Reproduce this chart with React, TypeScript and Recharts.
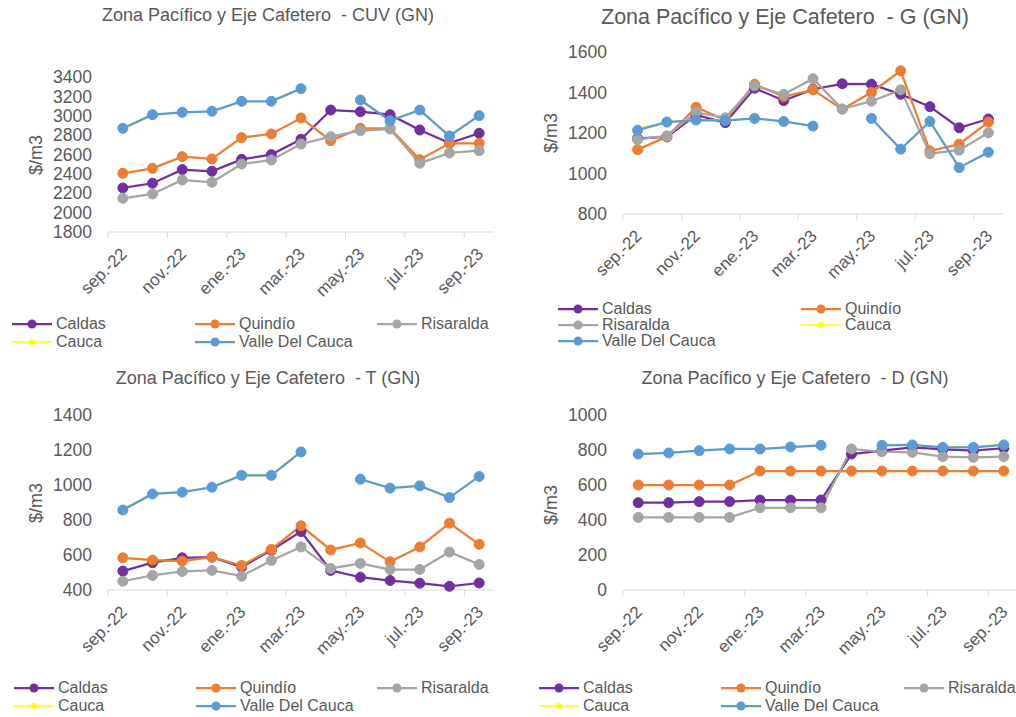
import { Line, LineChart, XAxis, YAxis } from 'recharts';

const months = [
  'sep.-22', 'oct.-22', 'nov.-22', 'dic.-22', 'ene.-23', 'feb.-23', 'mar.-23',
  'abr.-23', 'may.-23', 'jun.-23', 'jul.-23', 'ago.-23', 'sep.-23',
];

const seriesNames = ['Caldas', 'Quindío', 'Risaralda', 'Cauca', 'Valle Del Cauca'];
const seriesColors = ['#7030A0', '#ED7D31', '#A5A5A5', '#FFFF00', '#5B9BD5'];

// CUV
const cuvCaldas = [2255, 2303, 2444, 2427, 2550, 2599, 2757, 3059, 3042, 3011, 2853, 2719, 2819];
const cuvQuindio = [2406, 2457, 2578, 2554, 2774, 2812, 2977, 2743, 2870, 2870, 2547, 2715, 2715];
const cuvRisaralda = [2148, 2193, 2337, 2313, 2502, 2543, 2709, 2784, 2846, 2863, 2509, 2616, 2640];
const cuvCauca = [2860, 3005, 3030, 3045, 3150, 3150, 3285, null, 3165, 2950, 3065, 2795, 3000];
const cuvValle = [2870, 3011, 3035, 3046, 3149, 3149, 3280, null, 3163, 2949, 3059, 2791, 3001];

// G
const gCaldas = [1173, 1181, 1289, 1251, 1421, 1360, 1416, 1443, 1441, 1391, 1330, 1226, 1269];
const gQuindio = [1118, 1181, 1327, 1264, 1441, 1380, 1413, 1318, 1400, 1507, 1111, 1145, 1254];
const gRisaralda = [1168, 1186, 1302, 1275, 1433, 1391, 1468, 1318, 1357, 1413, 1098, 1115, 1201];
const gCauca = [1222, 1256, 1268, 1262, 1274, 1256, 1236, null, 1270, 1122, 1258, 1030, 1106];
const gValle = [1214, 1254, 1264, 1261, 1272, 1257, 1234, null, 1272, 1120, 1257, 1029, 1105];

// T
const tCaldas = [508, 556, 584, 588, 531, 627, 734, 512, 473, 454, 439, 421, 440];
const tQuindio = [584, 571, 565, 588, 540, 632, 767, 629, 669, 561, 646, 782, 661];
const tRisaralda = [450, 483, 506, 512, 479, 569, 646, 523, 552, 517, 517, 617, 546];
const tCauca = [860, 955, 962, 992, 1058, 1060, 1192, null, 1035, 985, 997, 930, 1050];
const tValle = [857, 949, 959, 987, 1055, 1055, 1189, null, 1033, 982, 995, 928, 1049];

// D
const dCaldas = [499, 499, 505, 505, 514, 514, 514, 777, 796, 815, 804, 796, 810];
const dQuindio = [600, 600, 600, 600, 680, 680, 680, 680, 680, 680, 680, 680, 680];
const dRisaralda = [415, 415, 415, 415, 470, 470, 470, 806, 790, 787, 762, 758, 762];
const dCauca = [778, 785, 797, 807, 807, 818, 828, null, 833, 830, 818, 818, 832];
const dValle = [777, 783, 796, 806, 806, 817, 827, null, 827, 829, 815, 815, 829];

const TXT = '#595959';
const FONT = '"Liberation Sans", Arial, sans-serif';

function buildRows(series: (number | null)[][]) {
  return months.map((m, i) => {
    const row: Record<string, number | string | null> = { x: i + 0.5, month: m };
    series.forEach((s, k) => {
      row['s' + k] = s[i];
    });
    return row;
  });
}

const labelTicks = [0.5, 2.5, 4.5, 6.5, 8.5, 10.5, 12.5];

function MonthTick(props: any) {
  const { x, y, payload, half } = props;
  const label = months[Math.floor(payload.value)];
  const ax = x + 5;
  const ay = y + 23;
  return (
    <g>
      <line x1={x - half} x2={x - half} y1={y} y2={y + 6} stroke="#D9D9D9" />
      <text
        x={ax}
        y={ay}
        transform={`rotate(-45 ${ax} ${ay})`}
        textAnchor="end"
        fontSize={17}
        fill={TXT}
      >
        {label}
      </text>
    </g>
  );
}

type PanelProps = {
  title: string;
  titleSize: number;
  titleX: number;
  titleY: number;
  left: number;
  top: number;
  width: number;
  height: number;
  plotLeft: number;
  plotRight: number;
  plotTop: number;
  plotBottom: number;
  domain: [number, number];
  yTicks: number[];
  series: (number | null)[][];
  yLabelX: number;
  yLabelY: number;
  legend: { name: number; x: number; y: number }[];
};

function Panel(p: PanelProps) {
  const data = buildRows(p.series);
  const half = (p.plotRight - p.plotLeft) / 13 / 2;
  return (
    <>
      <div
        style={{
          position: 'absolute',
          left: p.titleX,
          top: p.titleY,
          transform: 'translate(-50%, -50%)',
          fontSize: p.titleSize,
          color: TXT,
          whiteSpace: 'pre',
        }}
      >
        {p.title}
      </div>
      <div
        style={{
          position: 'absolute',
          left: p.yLabelX,
          top: p.yLabelY,
          transform: 'translate(-50%, -50%) rotate(-90deg)',
          fontSize: 18,
          color: TXT,
          whiteSpace: 'pre',
        }}
      >
        $/m3
      </div>
      <div style={{ position: 'absolute', left: p.left, top: p.top }}>
        <LineChart
          width={p.width}
          height={p.height}
          data={data}
          margin={{ top: p.plotTop, right: p.width - p.plotRight, left: 0, bottom: 0 }}
        >
          <XAxis
            dataKey="x"
            type="number"
            domain={[0, 13]}
            ticks={labelTicks}
            interval={0}
            height={p.height - p.plotBottom}
            stroke="#D9D9D9"
            tickSize={0}
            tickMargin={0}
            tick={<MonthTick half={half} />}
          />
          <YAxis
            type="number"
            domain={p.domain}
            ticks={p.yTicks}
            interval={0}
            width={p.plotLeft}
            axisLine={false}
            tickLine={false}
            tickSize={0}
            tickMargin={16}
            tick={{ fill: TXT, fontSize: 17.5 }}
          />
          {p.series.map((_, k) => (
            <Line
              key={k}
              dataKey={'s' + k}
              name={seriesNames[k]}
              stroke={seriesColors[k]}
              strokeWidth={k === 3 ? 1.5 : 2.25}
              dot={{ r: k === 3 ? 2.5 : 5, fill: seriesColors[k], stroke: seriesColors[k], strokeWidth: 1 }}
              connectNulls={false}
              isAnimationActive={false}
            />
          ))}
        </LineChart>
      </div>
      {p.legend.map((it) => (
        <div
          key={it.name}
          style={{
            position: 'absolute',
            left: it.x - 20,
            top: it.y - 10,
            height: 20,
            display: 'flex',
            alignItems: 'center',
            fontSize: 16,
            color: TXT,
            whiteSpace: 'pre',
          }}
        >
          <svg width={40} height={20}>
            <line x1={0} x2={40} y1={10} y2={10} stroke={seriesColors[it.name]} strokeWidth={it.name === 3 ? 1.5 : 2.25} />
            <circle cx={20} cy={10} r={it.name === 3 ? 3 : 4.5} fill={seriesColors[it.name]} />
          </svg>
          <span style={{ marginLeft: 4 }}>{seriesNames[it.name]}</span>
        </div>
      ))}
    </>
  );
}

export default function App() {
  return (
    <div
      style={{
        position: 'absolute',
        left: 0,
        top: 0,
        width: 1016,
        height: 717,
        overflow: 'hidden',
        background: '#fff',
        fontFamily: FONT,
      }}
    >
      <Panel
        title="Zona Pacífico y Eje Cafetero  - CUV (GN)"
        titleSize={18}
        titleX={268}
        titleY={15}
        left={0}
        top={0}
        width={508}
        height={358}
        plotLeft={108}
        plotRight={494}
        plotTop={77}
        plotBottom={232}
        domain={[1800, 3400]}
        yTicks={[1800, 2000, 2200, 2400, 2600, 2800, 3000, 3200, 3400]}
        series={[cuvCaldas, cuvQuindio, cuvRisaralda, cuvCauca, cuvValle]}
        yLabelX={36}
        yLabelY={155}
        legend={[
          { name: 0, x: 32, y: 324 },
          { name: 1, x: 215, y: 324 },
          { name: 2, x: 397, y: 324 },
          { name: 3, x: 32, y: 342 },
          { name: 4, x: 215, y: 342 },
        ]}
      />
      <Panel
        title="Zona Pacífico y Eje Cafetero  - G (GN)"
        titleSize={21.5}
        titleX={785}
        titleY={17}
        left={508}
        top={0}
        width={508}
        height={358}
        plotLeft={115}
        plotRight={495}
        plotTop={52}
        plotBottom={214}
        domain={[800, 1600]}
        yTicks={[800, 1000, 1200, 1400, 1600]}
        series={[gCaldas, gQuindio, gRisaralda, gCauca, gValle]}
        yLabelX={551}
        yLabelY={133}
        legend={[
          { name: 0, x: 578, y: 309 },
          { name: 1, x: 821, y: 309 },
          { name: 2, x: 578, y: 325 },
          { name: 3, x: 821, y: 325 },
          { name: 4, x: 578, y: 341 },
        ]}
      />
      <Panel
        title="Zona Pacífico y Eje Cafetero  - T (GN)"
        titleSize={18}
        titleX={268}
        titleY={378}
        left={0}
        top={358}
        width={508}
        height={359}
        plotLeft={108}
        plotRight={494}
        plotTop={57}
        plotBottom={232}
        domain={[400, 1400]}
        yTicks={[400, 600, 800, 1000, 1200, 1400]}
        series={[tCaldas, tQuindio, tRisaralda, tCauca, tValle]}
        yLabelX={36}
        yLabelY={503}
        legend={[
          { name: 0, x: 34, y: 688 },
          { name: 1, x: 216, y: 688 },
          { name: 2, x: 397, y: 688 },
          { name: 3, x: 34, y: 706 },
          { name: 4, x: 216, y: 706 },
        ]}
      />
      <Panel
        title="Zona Pacífico y Eje Cafetero  - D (GN)"
        titleSize={18}
        titleX={795}
        titleY={378}
        left={508}
        top={358}
        width={520}
        height={359}
        plotLeft={115}
        plotRight={511}
        plotTop={57}
        plotBottom={232}
        domain={[0, 1000]}
        yTicks={[0, 200, 400, 600, 800, 1000]}
        series={[dCaldas, dQuindio, dRisaralda, dCauca, dValle]}
        yLabelX={551}
        yLabelY={505}
        legend={[
          { name: 0, x: 559, y: 688 },
          { name: 1, x: 741, y: 688 },
          { name: 2, x: 924, y: 688 },
          { name: 3, x: 559, y: 706 },
          { name: 4, x: 741, y: 706 },
        ]}
      />
    </div>
  );
}
